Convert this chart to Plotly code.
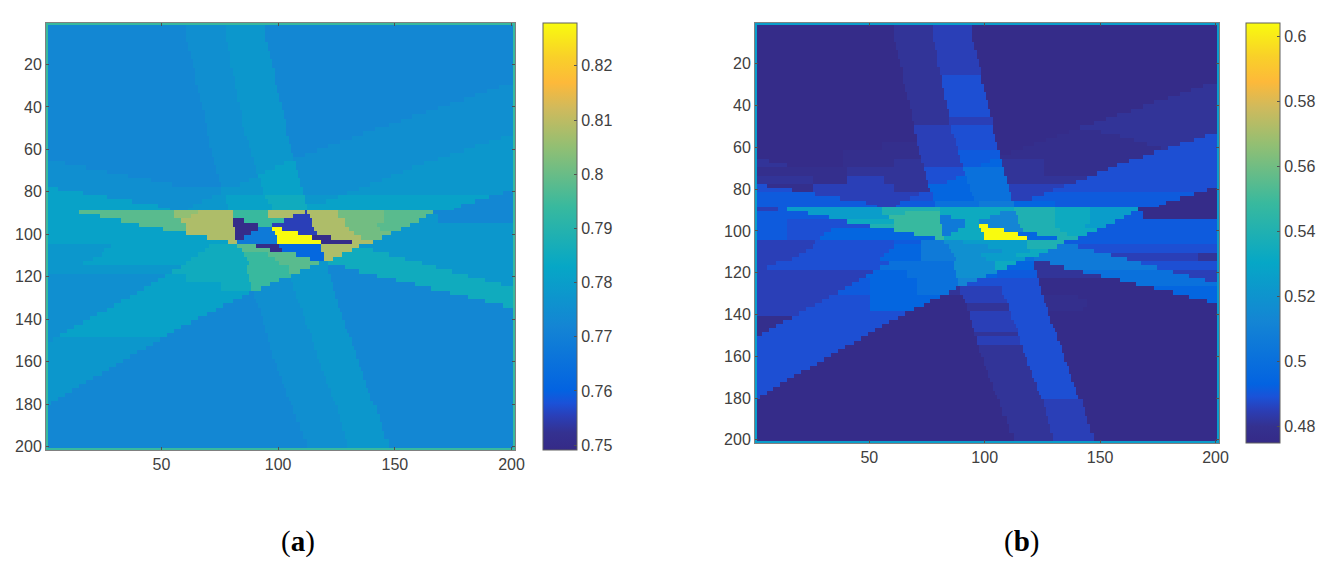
import numpy as np
import plotly.graph_objects as go

# page keeps an 8px body margin, so the figure is 16px smaller than the window
PAGE_W = 1337
PAGE_H = 569
BODY = 8
W = PAGE_W - 2 * BODY
H = PAGE_H - 2 * BODY

# colour levels
LEVELS_A = {"n": 0.7499, "m": 0.7554, "q": 0.7617, "r": 0.7680, "b": 0.7725, "c": 0.7751,
            "d": 0.7779, "e": 0.7814, "f": 0.7853, "g": 0.7885, "h": 0.7940, "i": 0.7980,
            "j": 0.8011, "k": 0.8050, "l": 0.8082, "Y": 0.8279}
LEVELS_B = {"n": 0.4760, "a": 0.4785, "o": 0.4810, "p": 0.4850, "q": 0.4884, "r": 0.4910,
            "s": 0.4945, "t": 0.5006, "u": 0.5060, "v": 0.5123, "w": 0.5180, "x": 0.5250,
            "y": 0.5330, "z": 0.5394, "A": 0.5480, "Y": 0.6040}

# (last row, runs) where a run is level letter + last column
ROWS_A = [
    (1, "h201"),
    (9, "h1 b60 c77 d94 b200 h201"),
    (13, "h1 b61 c78 d95 b200 h201"),
    (17, "h1 b62 c79 d96 b200 h201"),
    (21, "h1 b63 c79 d97 b200 h201"),
    (25, "h1 b64 c80 d98 b200 h201"),
    (29, "h1 b64 c81 d98 b200 h201"),
    (31, "h1 b65 c81 d99 b194 c200 h201"),
    (33, "h1 b65 c82 d99 b189 c200 h201"),
    (35, "h1 b66 c82 d100 b184 c200 h201"),
    (37, "h1 b66 c82 d100 b179 c200 h201"),
    (39, "h1 b67 c83 d101 b173 c200 h201"),
    (41, "h1 b67 c83 d101 b168 c200 h201"),
    (43, "h1 b68 c84 d102 b163 c200 h201"),
    (45, "h1 b68 c84 d102 b157 c200 h201"),
    (47, "h1 b68 c84 d103 b152 c200 h201"),
    (49, "h1 b69 c84 d103 b147 c200 h201"),
    (51, "h1 b69 c85 d103 b141 c200 h201"),
    (53, "h1 b69 c85 d103 b136 c200 h201"),
    (55, "h1 b70 c86 d104 b131 c195 d200 h201"),
    (57, "h1 b70 c87 d104 b126 c190 d200 h201"),
    (59, "h1 b70 c87 d105 b121 c184 d200 h201"),
    (61, "h1 b71 c88 d105 b116 c179 d200 h201"),
    (63, "h1 b71 c88 d106 b111 c173 d200 h201"),
    (65, "h1 b72 c89 d106 b106 c168 d200 h201"),
    (67, "h1 c8 b72 c89 d102 e107 c162 d200 h201"),
    (69, "h1 c17 b73 c90 d98 e107 c157 d200 h201"),
    (71, "h1 c26 b73 c90 d94 e108 c153 d200 h201"),
    (73, "h1 c35 b74 c91 e108 c148 d200 h201"),
    (75, "h1 c45 b74 c87 d92 e109 c144 d200 h201"),
    (77, "h1 c54 b75 c83 d92 e109 c139 d200 h201"),
    (79, "h1 e5 c75 d93 e110 c134 d200 h201"),
    (81, "h1 e16 c75 d93 e110 c129 d196 b200 h201"),
    (83, "h1 e26 c71 d77 e94 f111 d125 e190 b200 h201"),
    (85, "h1 e37 c67 d77 e95 f111 d120 e184 b200 h201"),
    (87, "h1 e48 c63 d78 e97 f112 e178 b200 h201"),
    (88, "h1 e53 c61 d78 e97 f112 e175 b200 h201"),
    (90, "h1 e14 i55 k65 l80 h95 l111 m112 l125 j145 i166 b200 h201"),
    (92, "h1 e23 i55 k62 l80 h95 l106 m113 l125 j145 i163 d168 b200 h201"),
    (94, "h1 e32 i58 l80 n85 h102 m114 l128 j145 i160 d168 b200 h201"),
    (96, "h1 e40 i60 l80 n91 h97 m114 l128 j142 i156 d200 h201"),
    (98, "h1 e50 i60 l81 n91 r97 Y101 m115 l130 j143 i152 d200 h201"),
    (100, "h1 e60 l81 n88 r98 Y108 m116 l132 j148 d200 h201"),
    (102, "h1 e69 l81 n85 r99 Y114 n122 l135 j144 d200 h201"),
    (104, "h1 e78 l82 r99 Y118 n131 l140 d200 h201"),
    (106, "h1 d28 e70 f82 i90 n100 q118 l134 d200 h201"),
    (108, "h1 d25 e68 f84 i96 n101 q118 l131 f140 d200 h201"),
    (110, "h1 d24 e65 f85 h95 i107 q119 l127 f147 d200 h201"),
    (112, "h1 d20 e62 f86 h98 i113 q119 l123 f154 d200 h201"),
    (114, "h1 d16 e60 f87 h100 i117 d121 f161 d200 h201"),
    (116, "h1 d58 f86 h104 i113 d121 b128 f167 d200 h201"),
    (118, "h1 d54 f86 h104 i109 d121 b134 f174 d200 h201"),
    (120, "h1 c51 e60 f87 h105 d122 b142 f181 d200 h201"),
    (122, "h1 c48 e60 f87 h100 c105 d122 b150 f188 d200 h201"),
    (124, "h1 c45 e75 f88 h96 c106 d123 b158 f195 d200 h201"),
    (126, "h1 c42 e75 f88 h92 c106 d123 b165 f200 h201"),
    (128, "h1 c39 e87 b89 c107 d124 b173 f200 h201"),
    (130, "h1 c36 e84 b89 c107 d124 b181 f200 h201"),
    (132, "h1 c32 e80 b90 c108 d125 b188 f200 h201"),
    (134, "h1 c29 e76 b91 c109 d125 b196 f200 h201"),
    (136, "h1 c26 e73 b92 c110 d126 b200 h201"),
    (138, "h1 c22 e69 b92 c110 d127 b200 h201"),
    (140, "h1 c19 e65 b93 c111 d127 b200 h201"),
    (142, "h1 c16 e62 b93 c111 d128 b200 h201"),
    (144, "h1 c12 e58 b94 c112 d128 b200 h201"),
    (146, "h1 c9 e55 b94 c113 d129 b200 h201"),
    (148, "h1 c6 e52 b95 c114 d130 b200 h201"),
    (150, "h1 c3 d49 b95 c114 d131 b200 h201"),
    (152, "h1 d46 b96 c115 d131 b200 h201"),
    (154, "h1 d43 b96 c115 d132 b200 h201"),
    (156, "h1 d39 b97 c116 d133 b200 h201"),
    (158, "h1 d36 b97 c116 d133 b200 h201"),
    (160, "h1 d33 b98 c117 d134 b200 h201"),
    (162, "h1 d30 b99 c118 d134 b200 h201"),
    (164, "h1 d27 b99 c118 d135 b200 h201"),
    (166, "h1 d24 b100 c119 d136 b200 h201"),
    (168, "h1 d20 b101 c120 d136 b200 h201"),
    (170, "h1 d17 b101 c120 d137 b200 h201"),
    (172, "h1 d14 b102 c121 d137 b200 h201"),
    (174, "h1 d11 b103 c122 d138 b200 h201"),
    (176, "h1 d8 b103 c122 d139 b200 h201"),
    (178, "h1 d5 b104 c123 d139 b200 h201"),
    (180, "h1 d2 b105 c124 d140 b200 h201"),
    (184, "h1 b106 c125 d142 b200 h201"),
    (188, "h1 b107 c126 d143 b200 h201"),
    (192, "h1 b109 c127 d144 b200 h201"),
    (196, "h1 b110 c128 d145 b200 h201"),
    (200, "h1 b112 c129 d147 b200 h201"),
    (201, "h201"),
]

ROWS_B = [
    (1, "x201"),
    (9, "x1 n60 o77 p94 n200 x201"),
    (13, "x1 n61 o78 p95 n200 x201"),
    (17, "x1 n62 o79 p96 n200 x201"),
    (21, "x1 n63 o79 p97 n200 x201"),
    (25, "x1 n64 o80 p98 n200 x201"),
    (29, "x1 n64 o81 q98 n200 x201"),
    (31, "x1 n65 o81 q99 n194 o200 x201"),
    (33, "x1 n65 o82 q99 n189 o200 x201"),
    (35, "x1 n66 o82 q100 n184 o200 x201"),
    (37, "x1 n66 o82 q100 n179 o200 x201"),
    (39, "x1 n67 o83 q101 n173 o200 x201"),
    (41, "x1 n67 o83 q101 n168 o200 x201"),
    (43, "x1 n68 o84 q102 n163 o200 x201"),
    (45, "x1 n68 o84 q102 n157 o200 x201"),
    (47, "x1 n68 o84 p103 n152 o200 x201"),
    (49, "x1 n69 o84 p103 n147 o200 x201"),
    (51, "x1 n69 p85 q103 n141 o200 x201"),
    (53, "x1 n69 p85 q103 n136 a150 o200 x201"),
    (55, "x1 n70 p86 q104 n131 a158 o195 q200 x201"),
    (57, "x1 n70 p87 q104 n126 a164 o190 q200 x201"),
    (59, "x1 n55 a70 p87 q105 n121 a170 o184 q200 x201"),
    (61, "x1 n55 a71 p88 q105 n116 a176 o179 q200 x201"),
    (63, "x1 n38 a71 p88 r106 n111 a173 q200 x201"),
    (65, "x1 n38 a72 p89 r106 n106 a168 q200 x201"),
    (67, "x1 o6 n38 a60 o72 p89 r102 s107 o125 a162 q200 x201"),
    (69, "x1 o14 n38 a60 o73 p90 r98 s107 o125 a157 q200 x201"),
    (71, "x1 a40 o73 q90 t108 o125 a153 q200 x201"),
    (73, "x1 a40 o74 q91 t108 o125 a148 q200 x201"),
    (75, "x1 o25 a40 p56 o74 q87 s92 t109 o144 q200 x201"),
    (77, "x1 o25 a40 p56 o75 q83 s92 t109 o139 q200 x201"),
    (79, "x1 q5 a25 p60 o75 s93 t110 p134 q200 x201"),
    (81, "x1 q16 a25 p60 o76 s93 t110 p129 q196 n200 x201"),
    (83, "x1 r26 p71 q77 s94 t111 p125 r190 n200 x201"),
    (85, "x1 r37 p67 q77 s95 t111 p120 r184 n200 x201"),
    (87, "x1 r48 p63 r78 t97 u112 s130 r178 n200 x201"),
    (88, "x1 r53 p61 r78 t97 u112 s130 r175 n200 x201"),
    (90, "x1 p10 r14 x55 z80 y112 z130 y145 x166 n200 x201"),
    (92, "x1 r23 x55 z65 A80 y106 v113 z130 y145 x163 r168 n200 x201"),
    (94, "x1 r32 x58 A80 u85 y102 v114 z130 y145 x160 r168 n200 x201"),
    (96, "x1 r14 q40 y60 A80 u91 y97 v114 z130 y145 x156 r200 x201"),
    (98, "x1 r14 q50 z60 A81 u91 y97 Y101 v115 z130 y143 x152 r200 x201"),
    (100, "x1 r14 q33 s60 A81 u88 y98 Y108 v116 z132 y148 r200 x201"),
    (102, "x1 r14 q30 s69 A81 u85 y99 Y114 s122 z135 y144 r200 x201"),
    (104, "x1 r14 q28 s78 A82 y99 Y118 s131 z140 r200 x201"),
    (106, "x1 p26 q60 r72 u82 w90 x118 z134 r200 x201"),
    (108, "x1 p25 q60 s72 u84 w101 x118 z131 u140 q200 x201"),
    (110, "x1 p22 q58 s72 u85 w107 x119 y127 u147 q200 x201"),
    (112, "x1 p19 q56 s72 u86 w98 x113 y123 u154 p192 o200 x201"),
    (114, "x1 p16 q54 s72 u87 w100 x117 t121 u161 p192 o200 x201"),
    (116, "x1 p9 q58 t86 w104 y113 s121 o128 u167 q200 x201"),
    (118, "x1 p5 q54 t86 w104 y109 s121 o134 u174 q200 x201"),
    (120, "x1 p51 s66 t87 w105 r122 o142 t181 p200 x201"),
    (122, "x1 p48 s66 t87 w100 s105 r122 o150 t188 p200 x201"),
    (124, "x1 p45 r50 s70 t88 v96 q123 n158 t195 p200 x201"),
    (126, "x1 p42 r50 s70 t88 v92 q123 n165 t200 x201"),
    (128, "x1 p39 r50 s70 t87 o89 p107 q124 n173 s200 x201"),
    (130, "x1 p36 r50 s70 t84 o89 p107 q124 n181 s200 x201"),
    (132, "x1 p32 q50 s80 n90 p108 q125 a140 n188 s200 x201"),
    (134, "x1 p29 q50 s76 n91 p109 q125 a144 n196 s200 x201"),
    (136, "x1 p26 q50 s73 n92 o110 q126 a144 n200 x201"),
    (138, "x1 p22 q50 s69 n92 o110 q127 a142 n200 x201"),
    (140, "x1 p19 q65 n93 p111 q127 n200 x201"),
    (142, "x1 a16 q62 n93 p111 q128 n200 x201"),
    (144, "x1 a12 q58 n94 p112 q128 n200 x201"),
    (146, "x1 a9 q55 n94 p113 q129 n200 x201"),
    (148, "x1 a6 q52 n95 p114 q130 n200 x201"),
    (150, "x1 a3 q49 n95 o114 q131 n200 x201"),
    (152, "x1 q46 n96 p115 q131 n200 x201"),
    (154, "x1 q43 n96 p115 q132 n200 x201"),
    (156, "x1 q39 n97 o116 q133 n200 x201"),
    (158, "x1 q36 n97 o116 q133 n200 x201"),
    (160, "x1 q33 n98 o117 q134 n200 x201"),
    (162, "x1 q30 n99 o118 q134 n200 x201"),
    (164, "x1 q27 n99 o118 q135 n200 x201"),
    (166, "x1 q24 n100 o119 q136 n200 x201"),
    (168, "x1 q20 n101 o120 q136 n200 x201"),
    (170, "x1 q17 n101 o120 q137 n200 x201"),
    (172, "x1 q14 n102 o121 q137 n200 x201"),
    (174, "x1 q11 n103 o122 q138 n200 x201"),
    (176, "x1 q8 n103 o122 q139 n200 x201"),
    (178, "x1 q5 n104 o123 q139 n200 x201"),
    (180, "x1 q2 n105 o124 q140 n200 x201"),
    (184, "x1 n106 o125 p142 n200 x201"),
    (188, "x1 n107 o126 p143 n200 x201"),
    (192, "x1 n109 o127 p144 n200 x201"),
    (196, "x1 n110 o128 p145 n200 x201"),
    (200, "x1 n112 o129 p147 n200 x201"),
    (201, "x201"),
]

X_TICKS = [50, 100, 150, 200]
Y_TICKS = [20, 40, 60, 80, 100, 120, 140, 160, 180, 200]
CB_TICKS_A = [0.75, 0.76, 0.77, 0.78, 0.79, 0.8, 0.81, 0.82]
CB_TICKS_B = [0.48, 0.5, 0.52, 0.54, 0.56, 0.58, 0.6]
CB_LABELS_A = ["0.75", "0.76", "0.77", "0.78", "0.79", "0.8", "0.81", "0.82"]
CB_LABELS_B = ["0.48", "0.5", "0.52", "0.54", "0.56", "0.58", "0.6"]

PARULA = [
    [0.0, "#352a87"], [0.04, "#343190"], [0.08, "#2a3fb8"], [0.11, "#1a52d8"],
    [0.14, "#0363e1"], [0.29, "#1485d4"], [0.43, "#06a7c6"], [0.57, "#38b99e"],
    [0.71, "#92bf73"], [0.80, "#d0ba5c"], [0.86, "#fdb93a"], [0.92, "#f9d029"],
    [1.0, "#f9fb0e"],
]

TEXT = "#404040"
LINE = "#808080"


def expand(rows, levels):
    z = np.zeros((201, 201))
    start = 0
    for end, runs in rows:
        col = 0
        for run in runs.split():
            last = int(run[1:])
            z[start:end, col:last] = levels[run[0]]
            col = last
        start = end
    return z


def px(x):
    return (x - BODY) / W


def py(y):
    return 1 - (y - BODY) / H


cols = list(range(1, 202))
fig = go.Figure()


def add_panel(n, z, left, right, top, bottom, cb_left, cb_right, zmin, zmax, ticks, labels):
    fig.add_trace(go.Heatmap(
        z=z, x=cols, y=cols, xaxis="x" + n, yaxis="y" + n,
        colorscale=PARULA, zmin=zmin, zmax=zmax, hoverinfo="skip",
        colorbar=dict(
            x=px(cb_left), xanchor="left", xpad=0, ypad=0,
            y=py(bottom), yanchor="bottom",
            lenmode="pixels", len=bottom - top,
            thicknessmode="pixels", thickness=cb_right - cb_left,
            tickvals=ticks, ticktext=labels, ticks="inside", ticklen=3,
            tickcolor="#505050", outlinecolor="#606060", outlinewidth=1,
            tickfont=dict(family="Liberation Sans", size=16, color=TEXT),
        ),
    ))
    common = dict(showline=True, linecolor=LINE, linewidth=1, mirror="ticks", ticks="inside",
                  ticklen=3, tickcolor="#505050", showgrid=False, zeroline=False,
                  tickfont=dict(family="Liberation Sans", size=16, color=TEXT))
    fig.update_layout({
        "xaxis" + n: dict(domain=[px(left), px(right)], anchor="y" + n, range=[0.5, 201.5],
                          tickvals=X_TICKS, **common),
        "yaxis" + n: dict(domain=[py(bottom), py(top)], anchor="x" + n, range=[201.5, 0.5],
                          tickvals=Y_TICKS, **common),
    })


add_panel("", expand(ROWS_A, LEVELS_A), 46, 515, 23, 450, 543, 577, 0.7491, 0.8279,
          CB_TICKS_A, CB_LABELS_A)
add_panel("2", expand(ROWS_B, LEVELS_B), 755, 1219, 23, 443, 1246, 1280, 0.4748, 0.604,
          CB_TICKS_B, CB_LABELS_B)

for label, cx in [("a", 298), ("b", 1021)]:
    fig.add_annotation(
        text="(<b>" + label + "</b>)", x=px(cx), y=py(541), xref="paper", yref="paper",
        xanchor="center", yanchor="middle", showarrow=False,
        font=dict(family="Liberation Serif", size=29, color="#000000"),
    )

fig.update_layout(width=W, height=H, margin=dict(l=0, r=0, t=0, b=0, autoexpand=False),
                  paper_bgcolor="white", plot_bgcolor="white")

fig.write_html("out.html")
